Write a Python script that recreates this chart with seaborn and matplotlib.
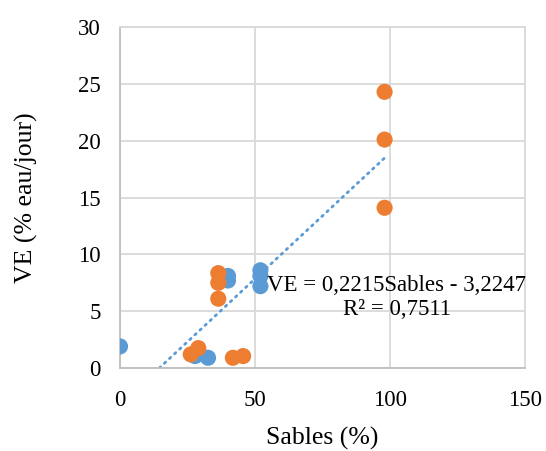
import numpy as np
import pandas as pd
import matplotlib
matplotlib.use('Agg')
import matplotlib.pyplot as plt
import seaborn as sns

# valeurs
sables_a = [0, 27.8, 32.6, 40, 40, 52, 52, 52]
ve_a = [1.9, 1.05, 0.9, 8.1, 7.7, 8.6, 8.1, 7.2]
sables_b = [26.2, 29, 36.4, 36.4, 36.4, 41.8, 45.6, 98, 98, 98]
ve_b = [1.2, 1.75, 8.35, 7.5, 6.1, 0.9, 1.05, 24.3, 20.1, 14.1]
pente, ordonnee = 0.2215, -3.2247
r2 = 0.7511

df = pd.DataFrame({
    'Sables': sables_a + sables_b,
    'VE': ve_a + ve_b,
    'serie': ['a'] * len(sables_a) + ['b'] * len(sables_b),
})

sns.set_style('white')
plt.rcParams['font.family'] = ['Liberation Serif', 'DejaVu Serif']
plt.rcParams['text.color'] = 'black'
plt.rcParams['axes.labelcolor'] = 'black'
plt.rcParams['xtick.color'] = 'black'
plt.rcParams['ytick.color'] = 'black'

fig = plt.figure(figsize=(5.46, 4.51), dpi=100)
ax = fig.add_axes([0.2198, 0.184, 0.7417, 0.756])

sns.scatterplot(data=df, x='Sables', y='VE', hue='serie',
                palette={'a': '#5B9BD5', 'b': '#ED7D31'},
                s=135, edgecolor='none', legend=False, ax=ax, zorder=3)

# courbe de tendance
x0 = -ordonnee / pente
xt = np.array([x0, max(df.Sables)])
ax.plot(xt, pente * xt + ordonnee, color='#5B9BD5', lw=2.0,
        linestyle=(0, (0.6, 1.9)), dash_capstyle='round', zorder=2)

eq = 'VE = {:.4f}Sables - {:.4f}'.format(pente, -ordonnee).replace('.', ',')
r2txt = 'R² = {:.4f}'.format(r2).replace('.', ',')
ax.text(102.5, 6.2, eq + '\n' + r2txt, ha='center', va='center',
        fontsize=16.5, linespacing=1.2, zorder=4, clip_on=False)

ax.set_xlim(0, 150)
ax.set_ylim(0, 30)
ax.set_xticks([0, 50, 100, 150])
ax.set_yticks(range(0, 31, 5))
ax.grid(True, color='#d9d9d9', lw=1.3)
for s in ax.spines.values():
    s.set_color('#d9d9d9')
    s.set_linewidth(1.3)
ax.spines['left'].set_color('#bfbfbf')
ax.spines['bottom'].set_color('#bfbfbf')
ax.tick_params(labelsize=16.5, length=0)
ax.tick_params(axis='x', pad=16)
ax.tick_params(axis='y', pad=14)
ax.set_xlabel('Sables (%)', fontsize=18.5, labelpad=11)
ax.set_ylabel('VE (% eau/jour)', fontsize=18.5, labelpad=29)

fig.savefig('out.png', dpi=100)
